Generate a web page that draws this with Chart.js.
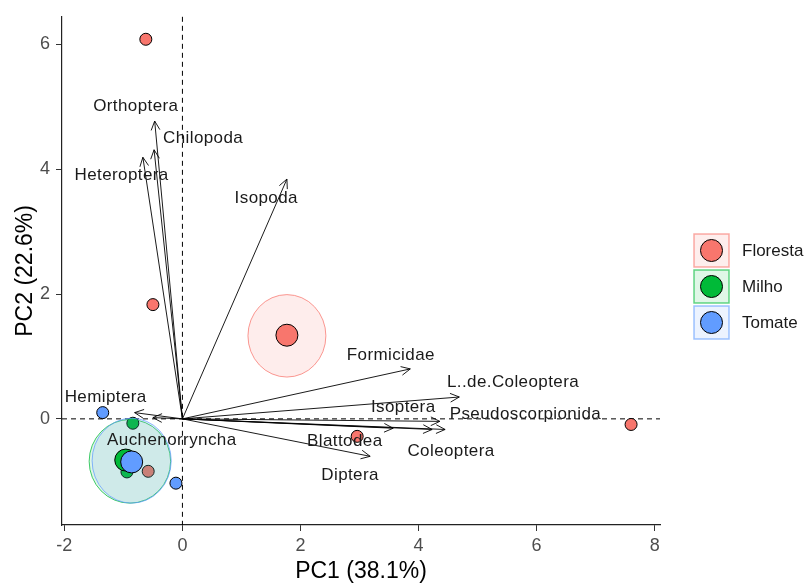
<!DOCTYPE html>
<html>
<head>
<meta charset="utf-8">
<script src="https://cdn.jsdelivr.net/npm/chart.js@4.4.1/dist/chart.umd.min.js"></script>
<style>
  body { margin: 0; background: #fff; }
  canvas { display: block; }
</style>
</head>
<body>
<canvas id="pca" width="811" height="583"></canvas>
<script>
// grupos
const groups = ['Floresta', 'Milho', 'Tomate'];
const groupColors = ['#F8766D', '#00BA38', '#619CFF'];

// indivíduos (PC1, PC2)
const florestaX = [-0.62, -0.50, 2.96, 7.60, -0.58];
const florestaY = [6.08, 1.83, -0.28, -0.09, -0.84];
const milhoX = [-0.84, -0.94];
const milhoY = [-0.07, -0.85];
const tomateX = [-1.35, -0.11];
const tomateY = [0.10, -1.03];

// médias dos grupos
const meanX = [1.77, -0.96, -0.86];
const meanY = [1.34, -0.66, -0.69];

// elipses (centro e raios)
const ellX = [1.77, -0.89, -0.86];
const ellY = [1.33, -0.68, -0.67];
const ellRx = [0.66, 0.69, 0.67];
const ellRy = [0.66, 0.67, 0.68];

// variáveis (setas)
const varNames = ['Orthoptera', 'Chilopoda', 'Heteroptera', 'Isopoda', 'Formicidae',
  'L..de.Coleoptera', 'Isoptera', 'Pseudoscorpionida', 'Coleoptera', 'Blattodea',
  'Diptera', 'Hemiptera', 'Auchenorryncha'];
const varX = [-0.47, -0.48, -0.67, 1.77, 3.86, 4.69, 4.36, 4.45, 4.23, 3.57, 3.18, -0.81, -0.50];
const varY = [4.77, 4.31, 4.19, 3.84, 0.80, 0.35, -0.04, -0.17, -0.17, -0.15, -0.60, 0.10, 0.02];
const labelX = [-0.79, 0.35, -1.03, 1.42, 3.53, 5.60, 3.74, 5.81, 4.55, 2.75, 2.84, -1.30, -0.18];
const labelY = [5.01, 4.49, 3.90, 3.53, 1.02, 0.59, 0.18, 0.07, -0.52, -0.36, -0.90, 0.34, -0.34];

const xTicks = [-2, 0, 2, 4, 6, 8];
const yTicks = [0, 2, 4, 6];

const FONT = '"Liberation Sans", Arial, sans-serif';
Chart.defaults.font.family = FONT;

function rgba(hex, a) {
  const n = parseInt(hex.slice(1), 16);
  return `rgba(${n >> 16},${(n >> 8) & 255},${n & 255},${a})`;
}

function pts(xs, ys) {
  return xs.map((v, i) => ({ x: v, y: ys[i] }));
}

// linhas tracejadas em zero
const zeroLines = {
  id: 'zeroLines',
  beforeDatasetsDraw(chart) {
    const { ctx, chartArea: a, scales: { x, y } } = chart;
    const px = x.getPixelForValue(0), py = y.getPixelForValue(0);
    ctx.save();
    ctx.strokeStyle = '#000';
    ctx.lineWidth = 1;
    ctx.setLineDash([5, 4]);
    ctx.beginPath();
    ctx.moveTo(px, a.top); ctx.lineTo(px, a.bottom);
    ctx.moveTo(a.left, py); ctx.lineTo(a.right, py);
    ctx.stroke();
    ctx.restore();
  }
};

// elipses, desenhadas antes das médias
const ellipses = {
  id: 'ellipses',
  beforeDatasetDraw(chart, args) {
    if (args.index !== 3) return;
    const { ctx, scales: { x, y } } = chart;
    ctx.save();
    groups.forEach((g, i) => {
      const cx = x.getPixelForValue(ellX[i]);
      const cy = y.getPixelForValue(ellY[i]);
      const rx = Math.abs(x.getPixelForValue(ellX[i] + ellRx[i]) - cx);
      const ry = Math.abs(y.getPixelForValue(ellY[i] + ellRy[i]) - cy);
      ctx.beginPath();
      ctx.ellipse(cx, cy, rx, ry, 0, 0, Math.PI * 2);
      ctx.fillStyle = rgba(groupColors[i], 0.13);
      ctx.fill();
      ctx.strokeStyle = rgba(groupColors[i], 0.75);
      ctx.lineWidth = 1;
      ctx.stroke();
    });
    ctx.restore();
  }
};

// setas e nomes das variáveis
const arrows = {
  id: 'arrows',
  afterDatasetsDraw(chart) {
    const { ctx, scales: { x, y } } = chart;
    const ox = x.getPixelForValue(0), oy = y.getPixelForValue(0);
    const h = 10, spread = 0.45;
    ctx.save();
    ctx.strokeStyle = '#000';
    ctx.lineWidth = 0.9;
    varNames.forEach((n, i) => {
      const tx = x.getPixelForValue(varX[i]), ty = y.getPixelForValue(varY[i]);
      const ang = Math.atan2(ty - oy, tx - ox);
      ctx.beginPath();
      ctx.moveTo(ox, oy); ctx.lineTo(tx, ty);
      ctx.moveTo(tx - h * Math.cos(ang - spread), ty - h * Math.sin(ang - spread));
      ctx.lineTo(tx, ty);
      ctx.lineTo(tx - h * Math.cos(ang + spread), ty - h * Math.sin(ang + spread));
      ctx.stroke();
    });
    ctx.font = '17px ' + FONT;
    ctx.letterSpacing = '0.4px';
    ctx.fillStyle = '#1a1a1a';
    ctx.textAlign = 'center';
    ctx.textBaseline = 'middle';
    varNames.forEach((n, i) => {
      ctx.fillText(n, x.getPixelForValue(labelX[i]), y.getPixelForValue(labelY[i]));
    });
    ctx.restore();
  }
};

// legenda à direita
const legendBoxes = {
  id: 'legendBoxes',
  afterDraw(chart) {
    const { ctx } = chart;
    ctx.save();
    groups.forEach((g, i) => {
      const bx = 694, by = 234 + i * 36, bw = 35, bh = 33;
      ctx.fillStyle = rgba(groupColors[i], 0.12);
      ctx.fillRect(bx, by, bw, bh);
      ctx.strokeStyle = rgba(groupColors[i], 0.6);
      ctx.lineWidth = 1.5;
      ctx.strokeRect(bx, by, bw, bh);
      ctx.beginPath();
      ctx.arc(bx + bw / 2, by + bh / 2, 11, 0, Math.PI * 2);
      ctx.fillStyle = groupColors[i];
      ctx.fill();
      ctx.strokeStyle = '#000';
      ctx.lineWidth = 1;
      ctx.stroke();
      ctx.font = '17px ' + FONT;
      ctx.fillStyle = '#1a1a1a';
      ctx.textAlign = 'left';
      ctx.textBaseline = 'middle';
      ctx.fillText(g, 742, by + bh / 2 + 1);
    });
    ctx.restore();
  }
};

const indiv = (data, c) => ({
  data, order: 2,
  backgroundColor: c, borderColor: '#000', borderWidth: 1,
  pointRadius: 6
});

new Chart(document.getElementById('pca'), {
  type: 'scatter',
  data: {
    datasets: [
      indiv(pts(florestaX, florestaY), groupColors[0]),
      indiv(pts(milhoX, milhoY), groupColors[1]),
      indiv(pts(tomateX, tomateY), groupColors[2]),
      {
        data: pts(meanX, meanY), order: 1,
        backgroundColor: groupColors, borderColor: '#000', borderWidth: 1,
        pointRadius: 11
      }
    ]
  },
  options: {
    responsive: false,
    animation: false,
    events: [],
    layout: { padding: { left: 0, top: 13, right: 151, bottom: 0 } },
    plugins: { legend: { display: false }, tooltip: { enabled: false } },
    scales: {
      x: {
        type: 'linear', min: -2.04, max: 8.09,
        afterBuildTicks: s => { s.ticks = xTicks.map(v => ({ value: v })); },
        afterFit: s => { s.height = 58; },
        grid: { drawOnChartArea: false, drawTicks: true, tickLength: 6, color: '#333' },
        border: { display: true, color: '#222', width: 1.2 },
        ticks: { color: '#4D4D4D', font: { size: 18 }, padding: 4, maxRotation: 0 },
        title: { display: true, text: 'PC1 (38.1%)', color: '#000',
          font: { size: 23, lineHeight: 1 }, padding: { top: 0, bottom: 0 } }
      },
      y: {
        type: 'linear', min: -1.70, max: 6.44,
        afterBuildTicks: s => { s.ticks = yTicks.map(v => ({ value: v })); },
        afterFit: s => { s.width = 62; },
        grid: { drawOnChartArea: false, drawTicks: true, tickLength: 6, color: '#333' },
        border: { display: true, color: '#222', width: 1.2 },
        ticks: { color: '#4D4D4D', font: { size: 18 }, padding: 6 },
        title: { display: true, text: 'PC2 (22.6%)', color: '#000',
          font: { size: 23, lineHeight: 1 }, padding: { top: 14, bottom: 0 } }
      }
    }
  },
  plugins: [zeroLines, ellipses, arrows, legendBoxes]
});
</script>
</body>
</html>
